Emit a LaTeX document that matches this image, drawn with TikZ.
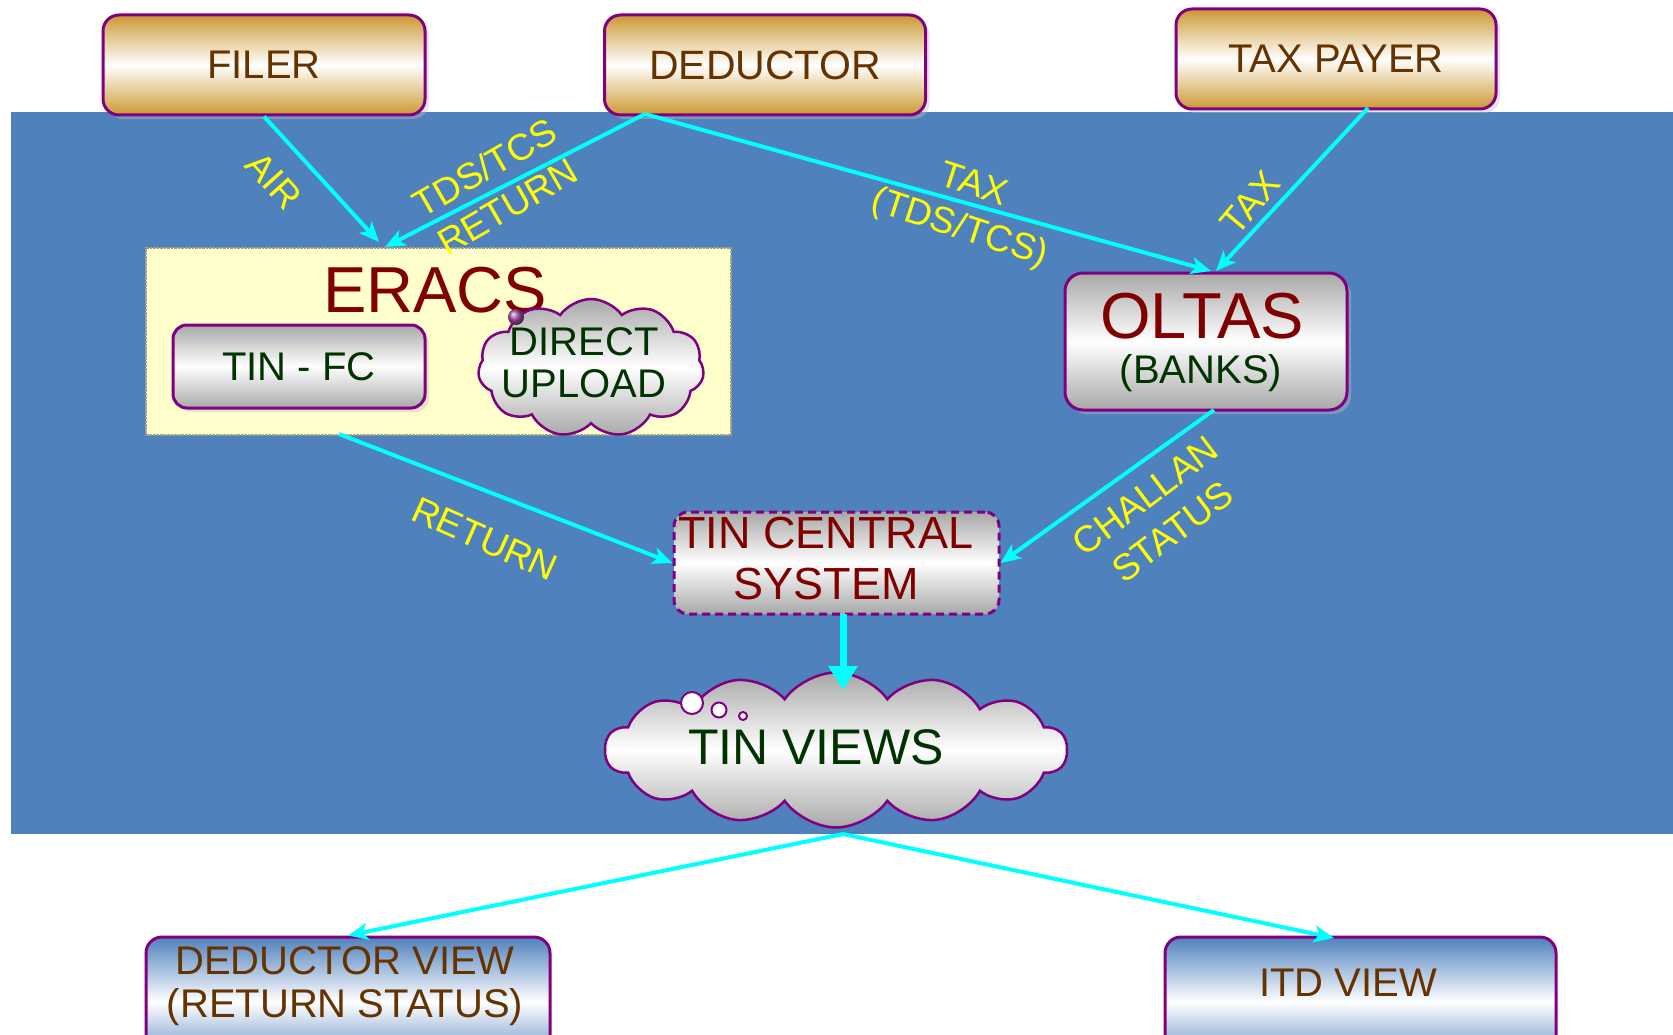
\documentclass[tikz,border=0pt]{standalone}
\usepackage{fontspec}
\setmainfont{Liberation Sans}
\usetikzlibrary{shapes.symbols,shadows,arrows.meta}
\definecolor{bgblue}{RGB}{79,129,189}
\definecolor{gold}{RGB}{204,153,51}
\definecolor{boxpurple}{RGB}{128,0,128}
\definecolor{tbrown}{RGB}{102,51,0}
\definecolor{dred}{RGB}{128,0,0}
\definecolor{dgreen}{RGB}{0,51,0}
\definecolor{eracsfill}{RGB}{255,255,204}
\definecolor{arrowcyan}{RGB}{0,255,255}
\definecolor{lblyellow}{RGB}{255,255,0}
\definecolor{boxgray}{RGB}{168,168,168}
\definecolor{dotgray}{RGB}{160,160,130}
\begin{document}
\begin{tikzpicture}[x=1pt,y=-1pt,
  box/.style={draw=boxpurple, line width=3pt, rounded corners=16pt, inner sep=0pt},
  goldbox/.style={box, top color=gold, bottom color=gold, middle color=white},
  graybox/.style={box, top color=boxgray, bottom color=boxgray, middle color=white},
  bluebox/.style={box, top color=bgblue, bottom color=bgblue, middle color=white},
  shad/.style={drop shadow={shadow xshift=4pt, shadow yshift=-4pt, fill=black!25, opacity=0.4}},
  cloudbox/.style={cloud, cloud ignores aspect, cloud puff arc=110, draw=boxpurple, line width=2.5pt, inner sep=0pt,
    top color=boxgray, bottom color=boxgray, middle color=white},
  toptxt/.style={text=tbrown, font=\fontsize{40}{44}\selectfont},
  flow/.style={draw=arrowcyan, line width=4pt, -{Stealth[length=20pt,width=17pt,inset=5pt]}},
  bigflow/.style={draw=arrowcyan, line width=7pt, -{Triangle[length=24pt,width=28pt]}},
  lbl/.style={text=lblyellow, font=\fontsize{37}{45}\selectfont, align=center, inner sep=0pt},
  bubble/.style={draw=boxpurple, line width=2pt, fill=white}
]
\clip (0,0) rectangle (1673,1035);
\useasboundingbox (0,0) rectangle (1673,1035);
\fill[white] (0,0) rectangle (1673,1035);
\fill[bgblue] (11,112) rectangle (1673,834);

% top boxes
\node[goldbox, shad, minimum width=322pt, minimum height=100pt, toptxt] (filer) at (264,65) {FILER};
\node[goldbox, shad, minimum width=321pt, minimum height=100pt, toptxt, font=\fontsize{41}{44}\selectfont] (deductor) at (765,65) {DEDUCTOR};
\node[goldbox, shad, minimum width=320pt, minimum height=100pt, toptxt] (taxpayer) at (1336,59) {TAX PAYER};

% ERACS
\node[draw=dotgray, densely dotted, line width=2.5pt, fill=eracsfill, minimum width=585pt, minimum height=187pt, inner sep=0pt] (eracs) at (438.5,341.5) {};
\node[text=dred, font=\fontsize{65}{70}\selectfont, inner sep=0pt] (eracst) at (435,290) {ERACS};
\node[graybox, shad, rounded corners=14pt, minimum width=252pt, minimum height=83pt, text=dgreen, font=\fontsize{40}{44}\selectfont] (tinfc) at (299,366.5) {TIN - FC};
\node[cloudbox, cloud puffs=11, minimum width=226pt, minimum height=138pt] (direct) at (591,368) {};
\node[text=dgreen, font=\fontsize{40}{42}\selectfont, align=center, inner sep=0pt] (directt) at (584,363) {DIRECT\\UPLOAD};
\shade[ball color=boxpurple!70] (516,317) circle (8);

% OLTAS
\node[graybox, shad, rounded corners=18pt, minimum width=282pt, minimum height=137pt] (oltas) at (1206,341.5) {};
\node[text=dred, font=\fontsize{65}{70}\selectfont, inner sep=0pt] (oltast) at (1202,316) {OLTAS};
\node[text=dgreen, font=\fontsize{40}{44}\selectfont, inner sep=0pt] (banks) at (1201,373) {(BANKS)};

% TIN CENTRAL SYSTEM
\node[graybox, dashed, dash pattern=on 8pt off 5pt, rounded corners=14pt, minimum width=325pt, minimum height=102pt] (tcs) at (836.5,563) {};
\node[text=dred, font=\fontsize{45}{51}\selectfont, align=center, inner sep=0pt] (tcst) at (826,558.5) {TIN CENTRAL\\SYSTEM};

% TIN VIEWS
\node[cloudbox, cloud puffs=14, minimum width=462pt, minimum height=155pt] (tinviews) at (836,750) {};
\node[text=dgreen, font=\fontsize{50}{56}\selectfont, inner sep=0pt] (tinviewst) at (816,747) {TIN VIEWS};
\draw[bubble] (692,703) circle (11);
\draw[bubble] (719,710) circle (7.5);
\draw[bubble] (743,716) circle (4);

% bottom boxes
\node[bluebox, minimum width=404pt, minimum height=130pt] (dv) at (348,1002) {};
\node[text=tbrown, font=\fontsize{40}{43}\selectfont, align=center, inner sep=0pt] (dvt) at (345,986.5) {DEDUCTOR VIEW\\(RETURN STATUS)};
\node[bluebox, minimum width=391pt, minimum height=130pt] (itd) at (1360.5,1002) {};
\node[text=tbrown, font=\fontsize{40}{44}\selectfont, inner sep=0pt] (itdt) at (1348,983) {ITD VIEW};

% connector end points
\coordinate (ein1) at (379,242);
\coordinate (ein2) at (385,247);
\coordinate (dout) at (645,114);
\coordinate (oin1) at (1211,271);
\coordinate (oin2) at (1216,271);
\coordinate (tout) at (1368,108);
\coordinate (eout) at (339,434);
\coordinate (oout) at (1214,410);
\coordinate (tcsout) at (843,614);
\coordinate (tvin) at (843,690);
\coordinate (tvout) at (843,834);
\coordinate (itdin) at (1334,938);

\draw[flow] (filer.south) -- (ein1);
\draw[flow] (dout) -- (ein2);
\draw[flow] (dout) -- (oin1);
\draw[flow] (tout) -- (oin2);
\draw[flow] (eout) -- (tcs.west);
\draw[flow] (oout) -- (tcs.east);
\draw[bigflow] (tcsout) -- (tvin);
\draw[flow] (tvout) -- (dv.north);
\draw[flow] (tvout) -- (itdin);

% labels
\node[lbl, rotate=-48] (lair) at (274,181) {AIR};
\node[lbl, rotate=30] (ltds) at (496,187) {TDS/TCS\\RETURN};
\node[lbl, rotate=-18] (ltax) at (966,208) {TAX\\(TDS/TCS)};
\node[lbl, rotate=50] (ltax2) at (1250,203) {TAX};
\node[lbl, rotate=-24] (lret) at (485,539) {RETURN};
\node[lbl, rotate=37] (lchal) at (1159,514) {CHALLAN\\STATUS};
\end{tikzpicture}
\end{document}
